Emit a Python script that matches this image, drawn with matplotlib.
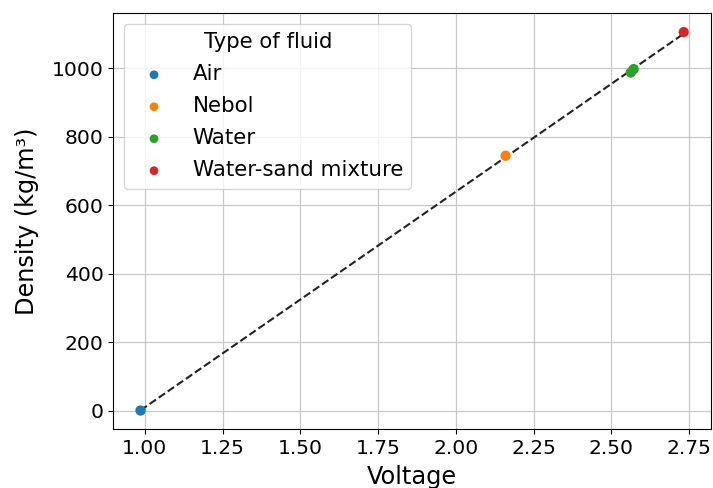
import matplotlib.pyplot as plt
import numpy as np

fluids = ["Air", "Nebol", "Water", "Water", "Water-sand mixture"]
voltage = [0.986, 2.160, 2.563, 2.572, 2.733]
density = [1.2, 745, 988, 998, 1106]

colors = {"Air": "tab:blue", "Nebol": "tab:orange",
          "Water": "tab:green", "Water-sand mixture": "tab:red"}

plt.rcParams["font.size"] = 14.6

fig = plt.figure(figsize=(7.13, 4.88), dpi=100)
ax = fig.add_axes([0.159, 0.120, 0.838, 0.853])

x = np.array(voltage)
y = np.array(density)

# linear calibration fit through all measurements
slope, intercept = np.polyfit(x, y, 1)
xs = np.array([x.min(), x.max()])
ax.plot(xs, slope * xs + intercept, "--", color="#222222", lw=1.5, zorder=2)

for name in dict.fromkeys(fluids):
    idx = [i for i, f in enumerate(fluids) if f == name]
    ax.scatter(x[idx], y[idx], s=55, color=colors[name], label=name,
               edgecolors="none", zorder=3)

ax.grid(True, color="#c8c8c8", lw=0.9)
ax.set_axisbelow(True)
ax.set_xticks([1.00, 1.25, 1.50, 1.75, 2.00, 2.25, 2.50, 2.75])
ax.set_xlabel("Voltage", fontsize=17.3, labelpad=5)
ax.set_ylabel("Density (kg/m³)", fontsize=17.3, labelpad=9)
ax.legend(title="Type of fluid", loc="upper left", markerscale=0.85,
          fontsize=15.4, title_fontsize=15.2, labelspacing=0.56)

plt.savefig("out.png", dpi=100)
